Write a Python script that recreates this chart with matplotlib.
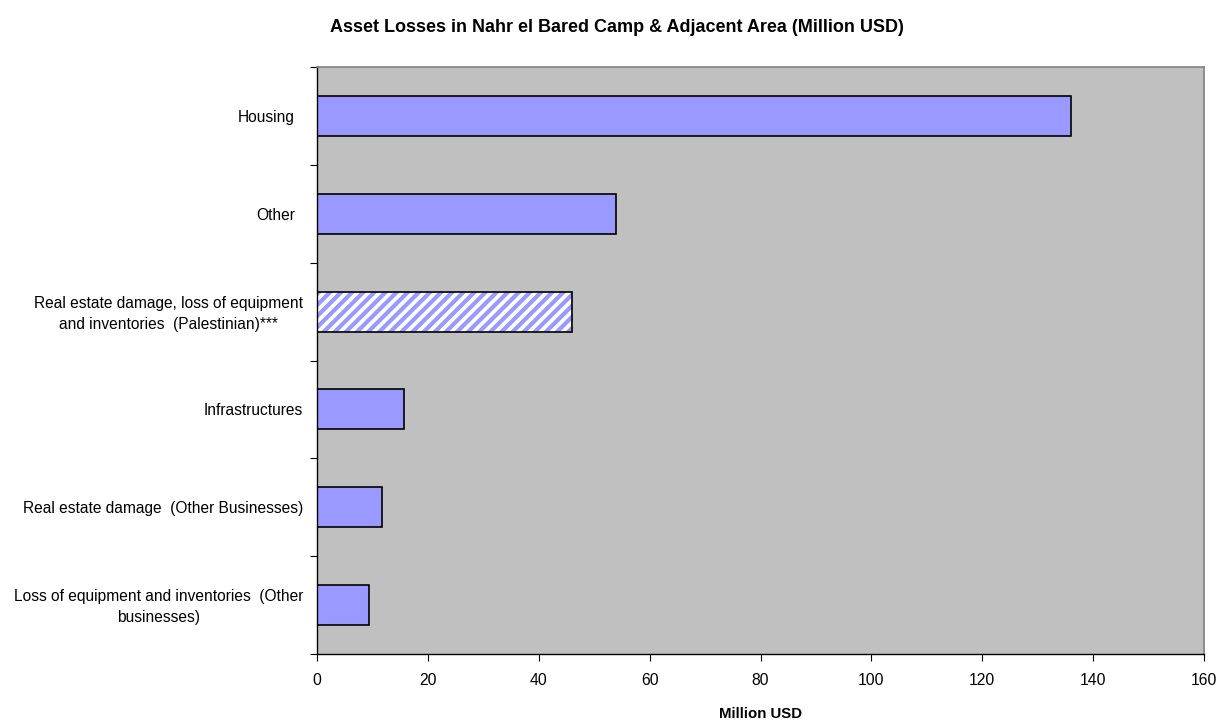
import matplotlib
matplotlib.use("Agg")
import matplotlib.pyplot as plt
import matplotlib.transforms as mtransforms
import numpy as np

categories = [
    "Housing",
    "Other",
    "Real estate damage, loss of equipment\nand inventories  (Palestinian)***",
    "Infrastructures",
    "Real estate damage  (Other Businesses)",
    "Loss of equipment and inventories  (Other\nbusinesses)",
]
values = [136, 54, 46, 15.7, 11.7, 9.4]
hatched = [False, False, True, False, False, False]
xticks = [0, 20, 40, 60, 80, 100, 120, 140, 160]

plt.rcParams['font.family'] = ['Liberation Sans', 'DejaVu Sans']
plt.rcParams['hatch.linewidth'] = 3.0

fig = plt.figure(figsize=(12.24, 7.21), dpi=100)
ax = fig.add_axes([317/1224, 1-654/721, (1204-317)/1224, (654-67)/721])
ax.set_facecolor('#C0C0C0')

n = len(categories)
ypos = np.arange(n)[::-1]  # top to bottom
bar_h = 0.41
for y, v, h in zip(ypos, values, hatched):
    if h:
        ax.barh(y, v, height=bar_h, color='white', edgecolor='#9999FF',
                hatch='///', linewidth=0, zorder=2)
        ax.barh(y, v, height=bar_h, fill=False, edgecolor='black',
                linewidth=1.2, zorder=3)
    else:
        ax.barh(y, v, height=bar_h, color='#9999FF', edgecolor='black',
                linewidth=1.2, zorder=2)

ax.set_xlim(0, 160)
ax.set_ylim(-0.5, n - 0.5)
ax.set_xticks(xticks)
ax.set_xticklabels([str(t) for t in xticks], fontsize=11.3)
ax.tick_params(axis='x', direction='out', length=5, pad=9, color='black')

ax.set_yticks(np.arange(-0.5, n, 1.0))
ax.set_yticklabels([])
ax.tick_params(axis='y', which='major', direction='out', length=5, color='black')
ax.set_yticks(ypos, minor=True)
ax.set_yticklabels(categories, minor=True, fontsize=11.2, multialignment='center',
                   linespacing=1.5)
ax.tick_params(axis='y', which='minor', length=0, pad=10)

# label offsets to mimic the reference placement
labels = ax.get_yticklabels(minor=True)
for lbl, txt in zip(labels, categories):
    dx, dy = 0, 0
    if txt in ("Housing", "Other"):
        dx = -8
    if "\n" in txt:
        dy = 2.5
    if dx or dy:
        lbl.set_transform(lbl.get_transform() +
                          mtransforms.ScaledTranslation(dx/100, dy/100, fig.dpi_scale_trans))

for s in ['top', 'right']:
    ax.spines[s].set_color('#808080')
    ax.spines[s].set_linewidth(1.2)
for s in ['left', 'bottom']:
    ax.spines[s].set_color('black')
    ax.spines[s].set_linewidth(1.0)

ax.set_xlabel("Million USD", fontsize=10.8, fontweight='bold', labelpad=13)
fig.text(617/1224, 1-27/721, "Asset Losses in Nahr el Bared Camp & Adjacent Area (Million USD)",
         ha='center', va='center', fontsize=13, fontweight='bold')

fig.savefig("out.png", dpi=100, facecolor='white')
